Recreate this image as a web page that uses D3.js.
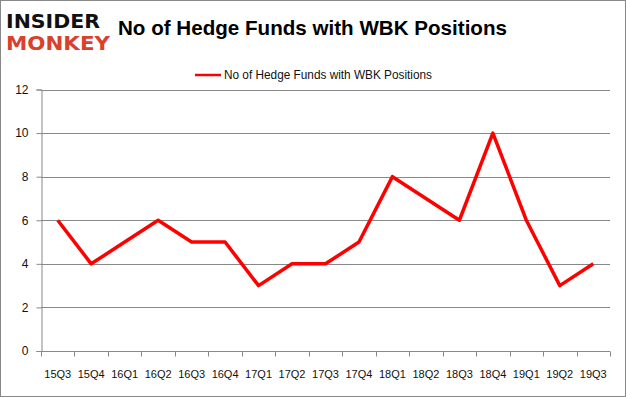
<!DOCTYPE html>
<html>
<head>
<meta charset="utf-8">
<script src="https://cdn.jsdelivr.net/npm/d3@7"></script>
<style>
  body { margin: 0; background: #fff; }
  svg { display: block; }
</style>
</head>
<body>
<div id="chart"></div>
<script>
// data
const quarters = ["15Q3", "15Q4", "16Q1", "16Q2", "16Q3", "16Q4", "17Q1", "17Q2", "17Q3",
  "17Q4", "18Q1", "18Q2", "18Q3", "18Q4", "19Q1", "19Q2", "19Q3"];
const funds = [6, 4, 5, 6, 5, 5, 3, 4, 4, 5, 8, 7, 6, 10, 6, 3, 4];
const yTicks = [0, 2, 4, 6, 8, 10, 12];
const titleText = "No of Hedge Funds with WBK Positions";

const W = 626, H = 397;
const margin = { top: 89.5, right: 16, bottom: 46, left: 41 };

const svg = d3.select("#chart").append("svg")
  .attr("width", W)
  .attr("height", H);

// outer frame
svg.append("rect")
  .attr("x", 0.5).attr("y", 0.5)
  .attr("width", W - 1).attr("height", H - 1)
  .attr("fill", "#fff")
  .attr("stroke", "#888");

// logo
svg.append("text")
  .attr("x", 6).attr("y", 28)
  .attr("font-family", "DejaVu Sans")
  .attr("font-weight", "bold")
  .attr("font-size", 19)
  .attr("textLength", 94)
  .attr("lengthAdjust", "spacingAndGlyphs")
  .attr("fill", "#111")
  .text("INSIDER");
svg.append("text")
  .attr("x", 6).attr("y", 50)
  .attr("font-family", "DejaVu Sans")
  .attr("font-weight", "bold")
  .attr("font-size", 19)
  .attr("textLength", 104)
  .attr("lengthAdjust", "spacingAndGlyphs")
  .attr("fill", "#d8412b")
  .text("MONKEY");

// title
svg.append("text")
  .attr("x", 118).attr("y", 35)
  .attr("font-family", "Liberation Sans, Arial, sans-serif")
  .attr("font-weight", "bold")
  .attr("font-size", 21)
  .attr("textLength", 389)
  .attr("lengthAdjust", "spacingAndGlyphs")
  .attr("fill", "#000")
  .text(titleText);

// legend
svg.append("line")
  .attr("x1", 195).attr("x2", 221)
  .attr("y1", 75).attr("y2", 75)
  .attr("stroke", "#ff0000")
  .attr("stroke-width", 2.5);
svg.append("text")
  .attr("x", 224).attr("y", 79)
  .attr("font-family", "Liberation Sans, Arial, sans-serif")
  .attr("font-size", 12)
  .attr("textLength", 208)
  .attr("lengthAdjust", "spacingAndGlyphs")
  .attr("fill", "#111")
  .text(titleText);

const x = d3.scaleBand()
  .domain(quarters)
  .range([margin.left, W - margin.right]);

const y = d3.scaleLinear()
  .domain([0, 12])
  .range([H - margin.bottom, margin.top]);

// gridlines
svg.append("g")
  .selectAll("line")
  .data(yTicks)
  .join("line")
  .attr("x1", margin.left).attr("x2", W - margin.right)
  .attr("y1", d => Math.round(y(d)) + 0.5)
  .attr("y2", d => Math.round(y(d)) + 0.5)
  .attr("stroke", "#888")
  .attr("stroke-width", 1);

// y axis
const yAxis = svg.append("g")
  .attr("transform", `translate(${margin.left + 0.5},0)`)
  .call(d3.axisLeft(y).tickValues(yTicks).tickSize(5).tickPadding(8));
yAxis.select(".domain").attr("stroke", "#888");
yAxis.selectAll(".tick line").attr("stroke", "#888");
yAxis.selectAll(".tick text")
  .attr("font-family", "Liberation Sans, Arial, sans-serif")
  .attr("font-size", 12)
  .attr("fill", "#111");

// x axis, ticks between categories
const xAxis = svg.append("g")
  .attr("transform", `translate(0,${Math.round(y(0)) + 0.5})`);
xAxis.append("line")
  .attr("x1", margin.left).attr("x2", W - margin.right)
  .attr("stroke", "#888");
xAxis.selectAll(".tk")
  .data(quarters.concat(["end"]))
  .join("line")
  .attr("class", "tk")
  .attr("x1", (d, i) => Math.round(margin.left + i * x.step()) + 0.5)
  .attr("x2", (d, i) => Math.round(margin.left + i * x.step()) + 0.5)
  .attr("y1", 0).attr("y2", 5)
  .attr("stroke", "#888");
xAxis.selectAll("text")
  .data(quarters)
  .join("text")
  .attr("x", d => x(d) + x.bandwidth() / 2)
  .attr("y", 26)
  .attr("text-anchor", "middle")
  .attr("font-family", "Liberation Sans, Arial, sans-serif")
  .attr("font-size", 11)
  .attr("fill", "#111")
  .text(d => d);

// series line
const line = d3.line()
  .x((d, i) => x(quarters[i]) + x.bandwidth() / 2)
  .y(d => y(d));

svg.append("path")
  .datum(funds)
  .attr("d", line)
  .attr("fill", "none")
  .attr("stroke", "#ff0000")
  .attr("stroke-width", 3.5)
  .attr("stroke-linejoin", "round");
</script>
</body>
</html>
